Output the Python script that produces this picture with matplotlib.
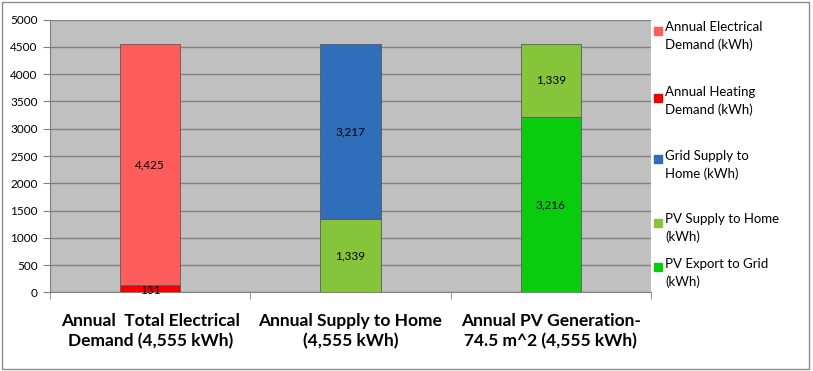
import numpy as np
import matplotlib
matplotlib.use('Agg')
import matplotlib.pyplot as plt
from matplotlib.lines import Line2D
from matplotlib.patches import Rectangle

plt.rcParams['font.family'] = ['Lato', 'DejaVu Sans']

# data
categories = ['Annual  Total Electrical\nDemand (4,555 kWh)',
              'Annual Supply to Home\n(4,555 kWh)',
              'Annual PV Generation-\n74.5 m^2 (4,555 kWh)']
series_names = ['Annual Electrical\nDemand (kWh)',
                'Annual Heating\nDemand (kWh)',
                'Grid Supply to\nHome (kWh)',
                'PV Supply to Home\n(kWh)',
                'PV Export to Grid\n(kWh)']
series_colors = ['#FF5C5C', '#F20000', '#2F6EBA', '#86C53A', '#0ACC0E']
# stacks per category, bottom to top: (series index, value)
stacks = [
    [(1, 131), (0, 4425)],
    [(3, 1339), (2, 3217)],
    [(4, 3216), (3, 1339)],
]
yticks = np.arange(0, 5001, 500)

W, H = 813, 371
fig = plt.figure(figsize=(W / 100, H / 100), dpi=100)
ax = fig.add_axes([0.0615, 0.2116, 0.7392, 0.7358])
ax.set_facecolor('#C0C0C0')

x = np.arange(len(categories))
width = 0.3
for i, st in enumerate(stacks):
    bottom = 0
    for si, val in st:
        ax.bar(x[i], val, width, bottom=bottom, color=series_colors[si],
               edgecolor='#5a5a5a', linewidth=0.6, zorder=3)
        ypos = bottom + val / 2
        if val < 300:
            ypos = bottom + val / 2 - 25
        ax.text(x[i], ypos, '{:,}'.format(val), ha='center', va='center',
                fontsize=8.5, color='black', zorder=4)
        bottom += val

ax.set_xlim(-0.5, 2.5)
ax.set_ylim(0, 5000)
ax.set_yticks(yticks)
ax.set_yticklabels([str(v) for v in yticks], fontsize=8.5)
ax.yaxis.grid(True, color='#808080', linewidth=1, zorder=0)
ax.set_axisbelow(True)
ax.set_xticks(x)
ax.set_xticklabels(categories, fontsize=12.5, fontweight='bold', linespacing=1.3)
ax.set_xticks([-0.5, 0.5, 1.5, 2.5], minor=True)
ax.tick_params(axis='x', which='major', length=0, pad=15)
ax.tick_params(axis='x', which='minor', length=5, color='#808080', direction='out')
ax.tick_params(axis='y', length=5, color='#808080', direction='out', pad=4)
for s in ['top', 'right']:
    ax.spines[s].set_visible(False)
for s in ['left', 'bottom']:
    ax.spines[s].set_color('#808080')

# legend, placed like the original (pixel positions from top)
leg_marker_y = [31, 98, 159, 223, 267]
leg_text_y = [36, 101, 165, 228, 273]
for name, c, my, ty in zip(series_names, series_colors, leg_marker_y, leg_text_y):
    fig.add_artist(Line2D([658 / W], [1 - my / H], transform=fig.transFigure,
                          linestyle='none', marker='s', markersize=6,
                          markerfacecolor=c, markeredgecolor=c))
    fig.text(665 / W, 1 - ty / H, name, ha='left', va='center', fontsize=9.5,
             linespacing=1.5)

fig.add_artist(Rectangle((0.002, 0.006), 0.993, 0.988, transform=fig.transFigure,
                         fill=False, edgecolor='#8c8c8c', linewidth=1))

fig.savefig('out.png', dpi=100)
